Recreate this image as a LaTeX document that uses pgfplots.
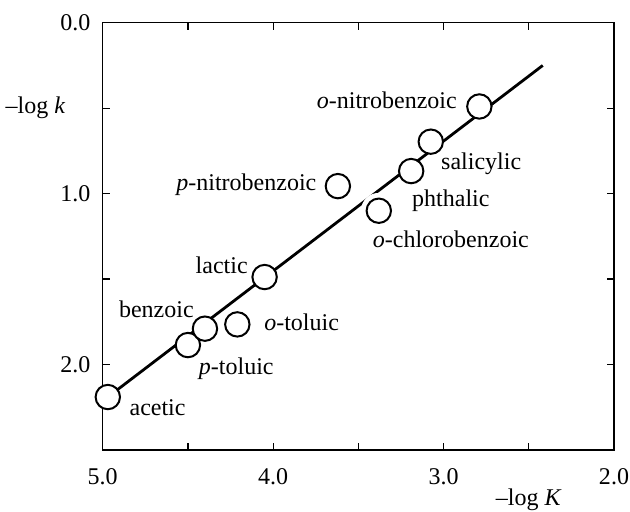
\documentclass[border=0pt]{standalone}
\usepackage{fontspec}
\setmainfont{Liberation Serif}
\usepackage{pgfplots}
\pgfplotsset{compat=1.18}

\begin{document}
\fontsize{12}{14.4}\selectfont
\begin{tikzpicture}[font=\fontsize{12}{14.4}\selectfont]
\begin{axis}[
  at={(0,0)}, anchor=south west,
  scale only axis, width=255.65pt, height=213.65pt,
  x dir=reverse, y dir=reverse,
  xmin=2, xmax=5, ymin=0, ymax=2.5,
  xtick={2,3,4,5}, minor xtick={2.5,3.5,4.5},
  ytick={0,1,2}, minor ytick={0.5,1.5},
  tick align=inside,
  major tick length=3.5pt, minor tick length=3.5pt,
  every tick/.style={black, line width=0.6pt},
  axis line style={line width=0.6pt},
  xticklabel style={yshift=-5pt},
  yticklabel style={xshift=-2pt},
  /pgf/number format/.cd, fixed, fixed zerofill, precision=1, assume math mode=true,
  /pgfplots/.cd,
  clip=false,
]
% correlation line
\addplot[black, line width=1.4pt] coordinates {(4.97,2.19) (2.418,0.25)};
% white clearance around the o-chlorobenzoic point
\addplot[white, only marks, mark=*, mark size=8.7pt]
  coordinates {(3.38,1.10)};
% acids
\addplot[only marks, mark=*, mark size=6.1pt,
  mark options={fill=white, draw=black, line width=1pt}]
  coordinates {
    (4.97,2.19)   % acetic
    (4.50,1.886)  % p-toluic
    (4.40,1.79)   % benzoic
    (4.21,1.765)  % o-toluic
    (4.05,1.488)  % lactic
    (3.62,0.956)  % p-nitrobenzoic
    (3.38,1.10)   % o-chlorobenzoic
    (3.19,0.868)  % phthalic
    (3.075,0.696) % salicylic
    (2.79,0.49)   % o-nitrobenzoic
  };
\node at (axis cs:3.333,0.452) {\textit{o}-nitrobenzoic};
\node at (axis cs:2.779,0.823) {salicylic};
\node at (axis cs:2.957,1.043) {phthalic};
\node at (axis cs:2.957,1.267) {\textit{o}-chlorobenzoic};
\node at (axis cs:4.157,0.946) {\textit{p}-nitrobenzoic};
\node at (axis cs:4.302,1.418) {lactic};
\node at (axis cs:4.685,1.677) {benzoic};
\node at (axis cs:3.833,1.750) {\textit{o}-toluic};
\node at (axis cs:4.216,2.022) {\textit{p}-toluic};
\node at (axis cs:4.678,2.250) {acetic};
% axis titles
\node[anchor=east, xshift=-14.5pt] at (axis cs:5,0.5) {--log \textit{k}};
\node[yshift=-25pt] at (axis cs:2.5,2.5) {--log \textit{K}};
\end{axis}
\pgfresetboundingbox
\path (-51.35pt,-30.5pt) rectangle (263.65pt,225pt);
\end{tikzpicture}
\end{document}
